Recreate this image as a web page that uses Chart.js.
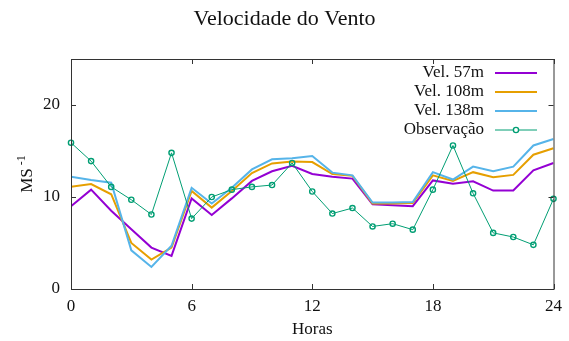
<!DOCTYPE html>
<html>
<head>
<meta charset="utf-8">
<script src="https://cdn.jsdelivr.net/npm/chart.js@4/dist/chart.umd.min.js"></script>
<style>
    html, body { margin: 0; padding: 0; background: #fff; }
    #wrap { width: 569px; height: 341px; position: relative; }
</style>
</head>
<body>
<div id="wrap"><canvas id="windChart"></canvas></div>
<script>
// Data (hourly values)
const hours = [0, 1, 2, 3, 4, 5, 6, 7, 8, 9, 10, 11, 12, 13, 14, 15, 16, 17, 18, 19, 20, 21, 22, 23, 24];
const vel57 = [9.0, 10.8, 8.5, 6.5, 4.5, 3.6, 9.85, 8.05, 9.85, 11.75, 12.8, 13.4, 12.5, 12.2, 12.0, 9.2, 9.1, 9.0, 11.8, 11.45, 11.7, 10.7, 10.7, 12.9, 13.7];
const vel108 = [11.1, 11.4, 10.3, 5.0, 3.2, 4.5, 10.65, 8.85, 10.65, 12.6, 13.65, 13.85, 13.8, 12.5, 12.3, 9.3, 9.3, 9.35, 12.35, 11.75, 12.7, 12.15, 12.4, 14.6, 15.3];
const vel138 = [12.2, 11.85, 11.55, 4.2, 2.4, 4.7, 11.0, 9.3, 11.0, 13.0, 14.1, 14.2, 14.45, 12.65, 12.35, 9.4, 9.4, 9.45, 12.7, 11.9, 13.3, 12.8, 13.3, 15.6, 16.3];
const observacao = [15.9, 13.9, 11.1, 9.7, 8.1, 14.8, 7.65, 10.0, 10.8, 11.1, 11.3, 13.7, 10.6, 8.2, 8.8, 6.8, 7.1, 6.45, 10.8, 15.6, 10.4, 6.1, 5.65, 4.8, 9.8];

const seriesLabels = ['Vel. 57m', 'Vel. 108m', 'Vel. 138m', 'Observação'];
const seriesColors = ['#9400d3', '#e69f00', '#56b4e9', '#009e73'];

const FONT = '"Liberation Serif", "Times New Roman", serif';
const FRAME = '#333333';

const toPoints = vals => vals.map((v, i) => ({ x: hours[i], y: v }));

// gnuplot-like frame, inner ticks on all sides, title, axis labels and legend
const gnuplotLook = {
    id: 'gnuplotLook',
    afterDraw(chart) {
        const ctx = chart.ctx;
        const a = chart.chartArea;
        const xs = chart.scales.x;
        const ys = chart.scales.y;
        ctx.save();

        // frame
        ctx.strokeStyle = FRAME;
        ctx.lineWidth = 1;
        ctx.strokeRect(a.left + 0.5, a.top + 0.5, a.right - a.left, a.bottom - a.top);

        // inner ticks
        const tl = 5;
        ctx.beginPath();
        xs.ticks.forEach(t => {
            const px = Math.round(xs.getPixelForValue(t.value)) + 0.5;
            ctx.moveTo(px, a.bottom); ctx.lineTo(px, a.bottom - tl);
            ctx.moveTo(px, a.top); ctx.lineTo(px, a.top + tl);
        });
        ys.ticks.forEach(t => {
            const py = Math.round(ys.getPixelForValue(t.value)) + 0.5;
            ctx.moveTo(a.left, py); ctx.lineTo(a.left + tl, py);
            ctx.moveTo(a.right, py); ctx.lineTo(a.right - tl, py);
        });
        ctx.stroke();

        // title
        ctx.fillStyle = '#111';
        ctx.font = '22px ' + FONT;
        ctx.textAlign = 'center';
        ctx.textBaseline = 'middle';
        ctx.fillText('Velocidade do Vento', chart.width / 2, 19);

        // x label
        ctx.font = '17px ' + FONT;
        ctx.fillText('Horas', (a.left + a.right) / 2, 330);

        // y label with superscript
        ctx.save();
        ctx.translate(28, (a.top + a.bottom) / 2);
        ctx.rotate(-Math.PI / 2);
        ctx.font = '17px ' + FONT;
        const w1 = ctx.measureText('MS').width;
        ctx.font = '12px ' + FONT;
        const w2 = ctx.measureText(' -1').width;
        const start = -(w1 + w2) / 2;
        ctx.textAlign = 'left';
        ctx.font = '17px ' + FONT;
        ctx.fillText('MS', start, 0);
        ctx.font = '12px ' + FONT;
        ctx.fillText(' -1', start + w1, -6);
        ctx.restore();

        // legend (text right aligned, sample on the right)
        ctx.font = '17px ' + FONT;
        ctx.textAlign = 'right';
        ctx.textBaseline = 'middle';
        chart.data.datasets.forEach((ds, i) => {
            const y = 73 + i * 19;
            ctx.fillStyle = '#111';
            ctx.fillText(ds.label, 484, y);
            ctx.strokeStyle = ds.borderColor;
            ctx.lineWidth = ds.borderWidth;
            ctx.beginPath();
            ctx.moveTo(495, y);
            ctx.lineTo(537, y);
            ctx.stroke();
            if (ds.pointRadius > 0) {
                ctx.beginPath();
                ctx.fillStyle = '#fff';
                ctx.lineWidth = ds.pointBorderWidth;
                ctx.arc(516, y, ds.pointRadius, 0, Math.PI * 2);
                ctx.fill();
                ctx.stroke();
            }
        });

        ctx.restore();
    }
};

const makeLine = (i, vals, order) => ({
    label: seriesLabels[i],
    data: toPoints(vals),
    borderColor: seriesColors[i],
    backgroundColor: seriesColors[i],
    borderWidth: 2,
    pointRadius: 0,
    tension: 0,
    order: order
});

new Chart(document.getElementById('windChart'), {
    type: 'line',
    data: {
        datasets: [
            makeLine(0, vel57, 4),
            makeLine(1, vel108, 3),
            makeLine(2, vel138, 2),
            {
                label: seriesLabels[3],
                data: toPoints(observacao),
                borderColor: seriesColors[3],
                backgroundColor: '#ffffff',
                borderWidth: 1,
                pointRadius: 2.6,
                pointBorderWidth: 1.4,
                pointBackgroundColor: 'rgba(255,255,255,0)',
                pointBorderColor: seriesColors[3],
                tension: 0,
                clip: 6,
                order: 1
            }
        ]
    },
    options: {
        responsive: true,
        maintainAspectRatio: false,
        animation: false,
        layout: { padding: { top: 59, right: 14, left: 0, bottom: 0 } },
        plugins: {
            legend: { display: false },
            title: { display: false },
            tooltip: { enabled: false }
        },
        scales: {
            x: {
                type: 'linear',
                min: 0,
                max: 24,
                grid: { display: false, drawTicks: false },
                border: { display: false },
                ticks: {
                    stepSize: 6,
                    includeBounds: false,
                    padding: 7,
                    color: '#111',
                    font: { family: FONT, size: 17 },
                    maxRotation: 0
                },
                afterFit(scale) { scale.height = 52; }
            },
            y: {
                min: 0,
                max: 25,
                grid: { display: false, drawTicks: false },
                border: { display: false },
                ticks: {
                    stepSize: 10,
                    includeBounds: false,
                    padding: 11,
                    color: '#111',
                    font: { family: FONT, size: 17 }
                },
                afterFit(scale) { scale.width = 71; }
            }
        }
    },
    plugins: [gnuplotLook]
});
</script>
</body>
</html>
